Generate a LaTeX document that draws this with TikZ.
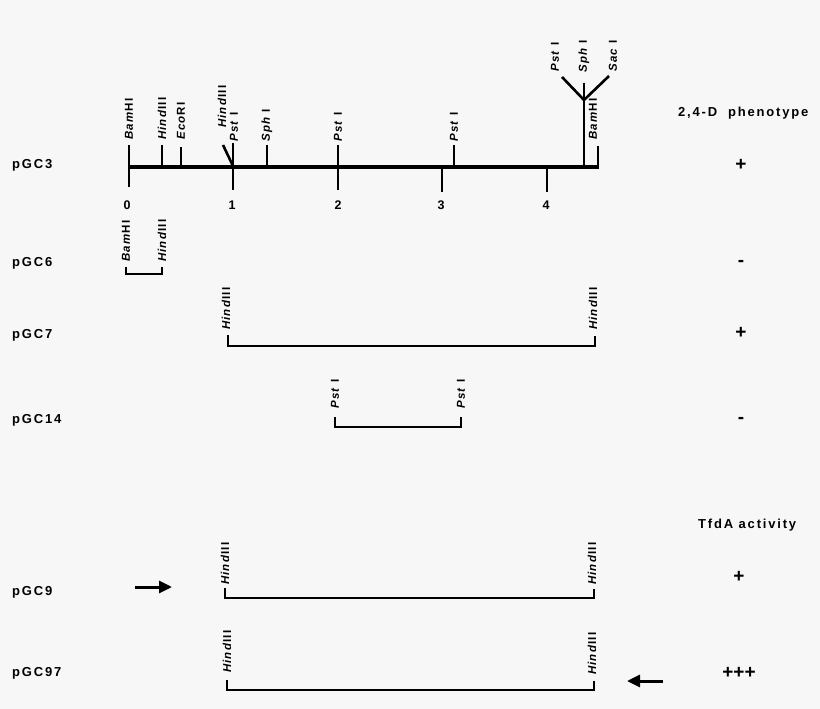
\documentclass[tikz,border=0pt]{standalone}
\usepackage{fontspec}
\setmainfont{Liberation Sans}
\usetikzlibrary{arrows.meta}
\definecolor{bg}{HTML}{F7F7F7}
\begin{document}
\begin{tikzpicture}[x=1pt,y=-1pt,
  lbl/.style={font=\bfseries\fontsize{13}{15}\selectfont\addfontfeature{LetterSpace=14}, inner sep=0, anchor=west},
  sign/.style={font=\bfseries\fontsize{19}{21}\selectfont, inner sep=0},
  num/.style={font=\bfseries\fontsize{12.5}{14}\selectfont, inner sep=0},
  site/.style={font=\bfseries\fontsize{11.5}{13}\selectfont\addfontfeature{LetterSpace=10}, rotate=90, anchor=west, inner sep=0},
  mapline/.style={line width=4pt},
  tickline/.style={line width=2.6pt},
  frag/.style={line width=2.4pt},
  marker/.style={line width=3pt, -{Triangle[length=13pt,width=12pt]}}]
\fill[bg] (0,0) rectangle (820,709);
\useasboundingbox (0,0) rectangle (820,709);
% main map pGC3
\draw[mapline] (129,167) -- (599,167);
\draw[tickline] (129,145) -- (129,187);
\draw[tickline] (162,145) -- (162,167);
\draw[tickline] (181,147) -- (181,167);
\draw[tickline] (233,143) -- (233,190);
\draw[tickline] (223,145) -- (233,166);
\draw[tickline] (267,145) -- (267,167);
\draw[tickline] (338,145) -- (338,190);
\draw[tickline] (442,167) -- (442,192);
\draw[tickline] (454,145) -- (454,167);
\draw[tickline] (547,167) -- (547,192);
\draw[tickline] (584,83) -- (584,167);
\draw[tickline] (562,77) -- (584,100) -- (609,76);
\draw[tickline] (598,146) -- (598,167);
% site labels on pGC3
\node[site] (s1) at (129,140) {\textit{Bam}HI};
\node[site] (s2) at (162,140) {\textit{Hind}III};
\node[site] (s3) at (181,140) {\textit{Eco}RI};
\node[site] (s4) at (222,128) {\textit{Hind}III};
\node[site] (s5) at (234,142) {\textit{Pst} I};
\node[site] (s6) at (267,142) {\textit{Sph} I};
\node[site] (s7) at (338,142) {\textit{Pst} I};
\node[site] (s8) at (454,142) {\textit{Pst} I};
\node[site] (s9) at (555,72) {\textit{Pst} I};
\node[site] (s10) at (584,73) {\textit{Sph} I};
\node[site] (s11) at (613,72) {\textit{Sac} I};
\node[site] (s12) at (593,140) {\textit{Bam}HI};
% scale numbers
\node[num] (n0) at (127,205) {0};
\node[num] (n1) at (232,205) {1};
\node[num] (n2) at (338,205) {2};
\node[num] (n3) at (441,205) {3};
\node[num] (n4) at (546,205) {4};
% pGC6
\draw[frag] (126,267) -- (126,274) -- (162,274) -- (162,267);
\node[site] (a1) at (126,262) {\textit{Bam}HI};
\node[site] (a2) at (162,262) {\textit{Hind}III};
% pGC7
\draw[frag] (228,335) -- (228,346) -- (595,346) -- (595,336);
\node[site] (b1) at (226,330) {\textit{Hind}III};
\node[site] (b2) at (593,330) {\textit{Hind}III};
% pGC14
\draw[frag] (335,417) -- (335,427) -- (461,427) -- (461,417);
\node[site] (c1) at (335,409) {\textit{Pst} I};
\node[site] (c2) at (461,409) {\textit{Pst} I};
% pGC9
\draw[frag] (225,588) -- (225,598) -- (594,598) -- (594,589);
\node[site] (d1) at (225,585) {\textit{Hind}III};
\node[site] (d2) at (592,585) {\textit{Hind}III};
\coordinate (d3) at (135,587);
\coordinate (d4) at (172,587);
\draw[marker] (d3) -- (d4);
% pGC97
\draw[frag] (227,680) -- (227,690) -- (594,690) -- (594,681);
\node[site] (e1) at (227,673) {\textit{Hind}III};
\node[site] (e2) at (592,675) {\textit{Hind}III};
\coordinate (e3) at (663,681);
\coordinate (e4) at (627,681);
\draw[marker] (e3) -- (e4);
% plasmid names
\node[lbl] (p3) at (12,165) {pGC3};
\node[lbl] (p6) at (12,263) {pGC6};
\node[lbl] (p7) at (12,335) {pGC7};
\node[lbl] (p14) at (12,420) {pGC14};
\node[lbl] (p9) at (12,592) {pGC9};
\node[lbl] (p97) at (12,673) {pGC97};
% right column
\node[lbl] (h1) at (678,113) {2,4-D\ \ phenotype};
\node[sign] (r3) at (741,165) {+};
\node[sign] (r6) at (741,263) {-};
\node[sign] (r7) at (741,333) {+};
\node[sign] (r14) at (741,420) {-};
\node[lbl] (h2) at (698,525) {TfdA\ activity};
\node[sign] (r9) at (739,577) {+};
\node[sign] (r97) at (739,673) {+++};
\end{tikzpicture}
\end{document}
